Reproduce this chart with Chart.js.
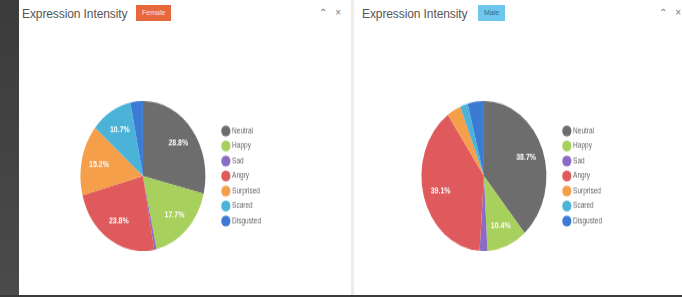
<!DOCTYPE html>
<html>
<head>
<meta charset="utf-8">
<script src="https://cdn.jsdelivr.net/npm/chart.js@4.4.0/dist/chart.umd.min.js"></script>
<style>
    body {
        margin: 0;
        width: 682px;
        height: 297px;
        overflow: hidden;
        background: #fff;
        position: relative;
        font-family: "Liberation Sans", Arial, sans-serif;
    }
    .strip { position: absolute; left: 0; top: 0; width: 19px; height: 297px; background: linear-gradient(#3b3b3b, #4b4b4b); }
    .bottom { position: absolute; left: 0; bottom: 0; width: 682px; height: 2px; background: #3a3a3a; }
    .divider { position: absolute; left: 351px; top: 0; width: 3px; height: 295px; background: #ececec; }
    .title { position: absolute; top: 7px; font-size: 12px; color: #555; letter-spacing: -0.1px; }
    .badge { position: absolute; top: 5px; height: 16px; line-height: 16px; font-size: 7px; padding: 0 6px; }
    .icons { position: absolute; top: 7px; font-size: 10px; color: #777; }
    .wrap { position: absolute; top: 101px; transform: scaleY(1.2); transform-origin: 0 0; }
</style>
</head>
<body>
<div class="strip"></div>
<div class="divider"></div>
<div class="bottom"></div>

<div class="title" style="left:22px">Expression Intensity</div>
<div class="badge" style="left:136px;background:#e8673c;color:#fde3d6">Female</div>
<div class="icons" style="left:319px">&#8963;&nbsp;&nbsp;&nbsp;&#215;</div>

<div class="title" style="left:362px">Expression Intensity</div>
<div class="badge" style="left:478px;background:#6ec6ec;color:#2b6f97">Male</div>
<div class="icons" style="left:659px">&#8963;&nbsp;&nbsp;&nbsp;&#215;</div>

<div class="wrap" style="left:69px"><canvas id="female_chart" width="202" height="125"></canvas></div>
<div class="wrap" style="left:410px"><canvas id="male_chart" width="202" height="125"></canvas></div>

<script>
const expressions = ["Neutral", "Happy", "Sad", "Angry", "Surprised", "Scared", "Disgusted"];
const femaleValues = [28.8, 17.7, 0.6, 23.8, 15.2, 10.7, 3.2];
const maleValues = [38.7, 10.4, 2.0, 39.1, 3.6, 2.0, 4.2];
const expressionColors = ["#6d6d6d", "#a8d05c", "#8a6cc4", "#df5a5c", "#f59f4a", "#4cb3d8", "#3b7bd4"];

// percentage text inside the bigger slices
const sliceLabels = {
    id: "sliceLabels",
    afterDatasetsDraw(chart) {
        const ctx = chart.ctx;
        const values = chart.data.datasets[0].data;
        const total = values.reduce((a, b) => a + b, 0);
        chart.getDatasetMeta(0).data.forEach((arc, i) => {
            const pct = (values[i] / total) * 100;
            if (pct < 5) return;
            const p = arc.getProps(["x", "y", "startAngle", "endAngle", "outerRadius"]);
            const mid = (p.startAngle + p.endAngle) / 2;
            const r = p.outerRadius * 0.72;
            ctx.save();
            ctx.fillStyle = "#fff";
            ctx.font = 'bold 7px "Liberation Sans"';
            ctx.textAlign = "center";
            ctx.textBaseline = "middle";
            ctx.fillText(pct.toFixed(1) + "%", p.x + Math.cos(mid) * r, p.y + Math.sin(mid) * r);
            ctx.restore();
        });
    },
};

function showExpressionChart(id, values) {
    new Chart(document.getElementById(id), {
        type: "pie",
        data: {
            labels: expressions,
            datasets: [
                {
                    data: values,
                    backgroundColor: expressionColors,
                    borderWidth: 0,
                },
            ],
        },
        options: {
            responsive: false,
            animation: false,
            devicePixelRatio: 1,
            plugins: {
                legend: {
                    position: "right",
                    labels: {
                        usePointStyle: true,
                        pointStyle: "circle",
                        boxWidth: 6,
                        padding: 6,
                        color: "#666",
                        font: { size: 6.5, family: "Liberation Sans" },
                    },
                },
                tooltip: { enabled: false },
            },
        },
        plugins: [sliceLabels],
    });
}

showExpressionChart("female_chart", femaleValues);
showExpressionChart("male_chart", maleValues);
</script>
</body>
</html>
